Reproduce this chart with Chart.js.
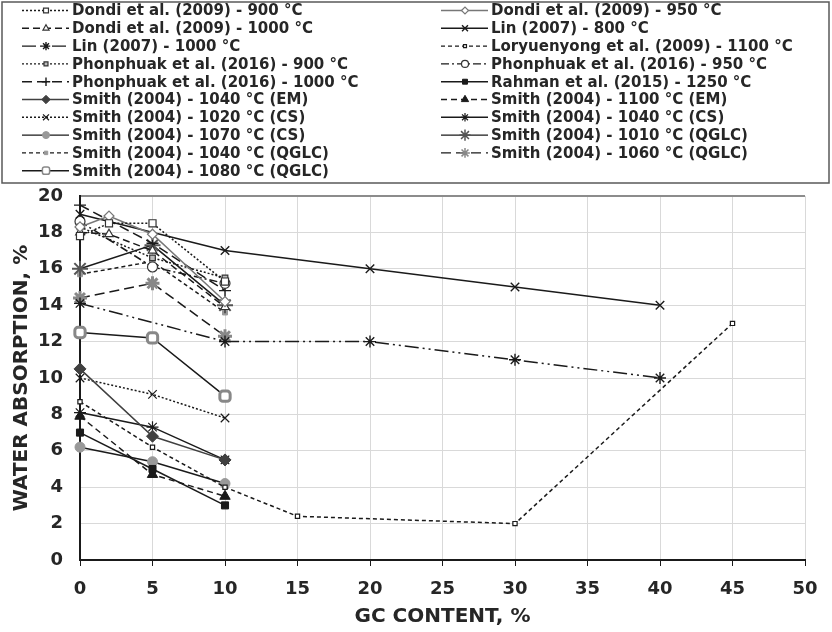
<!DOCTYPE html>
<html>
<head>
<meta charset="utf-8">
<script src="https://cdn.jsdelivr.net/npm/chart.js@4/dist/chart.umd.min.js"></script>
<style>
  html, body { margin: 0; padding: 0; background: #fff; }
</style>
</head>
<body>
<canvas id="chart" width="832" height="632"></canvas>
<script>
// GC content (x) for each study
var gcDondi = [0, 2, 5, 10];
var gcLin = [0, 10, 20, 30, 40];
var gcLory = [0, 5, 10, 15, 30, 45];
var gcShort = [0, 5, 10];

// water absorption, %
var dondi900 = [17.8, 18.5, 18.5, 15.3];
var dondi950 = [18.3, 18.9, 17.9, 14.2];
var dondi1000 = [18.0, 17.9, 17.0, 13.9];
var lin800 = [19.0, 17.0, 16.0, 15.0, 14.0];
var lin1000 = [14.1, 12.0, 12.0, 11.0, 10.0];
var lory1100 = [8.7, 6.2, 4.0, 2.4, 2.0, 13.0];
var phon900 = [18.3, 16.6, 15.5];
var phon950 = [18.6, 16.1, 15.2];
var phon1000 = [19.5, 17.4, 14.8];
var rahman1250 = [7.0, 5.0, 3.0];
var smithEM1040 = [10.5, 6.8, 5.5];
var smithEM1100 = [7.9, 4.7, 3.5];
var smithCS1020 = [10.0, 9.1, 7.8];
var smithCS1040 = [8.1, 7.3, 5.5];
var smithCS1070 = [6.2, 5.4, 4.2];
var smithQ1010 = [16.0, 17.3, 14.0];
var smithQ1040 = [15.7, 16.4, 13.6];
var smithQ1060 = [14.4, 15.2, 12.3];
var smithQ1080 = [12.5, 12.2, 9.0];

var seriesLabels = [
    'Dondi et al. (2009) - 900 °C', 'Dondi et al. (2009) - 950 °C',
    'Dondi et al. (2009) - 1000 °C', 'Lin (2007) - 800 °C',
    'Lin (2007) - 1000 °C', 'Loryuenyong et al. (2009) - 1100 °C',
    'Phonphuak et al. (2016) - 900 °C', 'Phonphuak et al. (2016) - 950 °C',
    'Phonphuak et al. (2016) - 1000 °C', 'Rahman et al. (2015) - 1250 °C',
    'Smith (2004) - 1040 °C (EM)', 'Smith (2004) - 1100 °C (EM)',
    'Smith (2004) - 1020 °C (CS)', 'Smith (2004) - 1040 °C (CS)',
    'Smith (2004) - 1070 °C (CS)', 'Smith (2004) - 1010 °C (QGLC)',
    'Smith (2004) - 1040 °C (QGLC)', 'Smith (2004) - 1060 °C (QGLC)',
    'Smith (2004) - 1080 °C (QGLC)'
];
var seriesX = [gcDondi, gcDondi, gcDondi, gcLin, gcLin, gcLory,
    gcShort, gcShort, gcShort, gcShort, gcShort, gcShort, gcShort,
    gcShort, gcShort, gcShort, gcShort, gcShort, gcShort];
var seriesY = [dondi900, dondi950, dondi1000, lin800, lin1000, lory1100,
    phon900, phon950, phon1000, rahman1250, smithEM1040, smithEM1100,
    smithCS1020, smithCS1040, smithCS1070, smithQ1010, smithQ1040,
    smithQ1060, smithQ1080];

// line colour, dash, marker, radius, marker fill, marker border, marker width
var K = '#1a1a1a';
var styles = [
    [K, [2, 2], 'rect', 5, '#fff', '#333', 1.2],
    ['#777', [], 'rectRot', 5, '#fff', '#777', 1.2],
    [K, [7, 4], 'triangle', 5, '#fff', '#333', 1.2],
    [K, [], 'crossRot', 6, K, K, 1.4],
    [K, [14, 4, 2, 4, 2, 4], 'star', 6, K, K, 1.4],
    [K, [4, 3], 'rect', 3, '#fff', K, 1.2],
    [K, [2, 2], 'rect', 4, '#bbb', '#333', 1.2],
    [K, [8, 3, 2, 3], 'circle', 5, '#fff', '#333', 1.2],
    [K, [10, 5], 'cross', 6, K, K, 1.4],
    [K, [], 'rect', 5, K, K, 1],
    ['#404040', [], 'rectRot', 6, '#404040', '#404040', 1],
    [K, [6, 4], 'triangle', 6, K, K, 1],
    [K, [2, 2], 'crossRot', 6, K, K, 1.2],
    [K, [], 'star', 6, K, K, 1.2],
    [K, [], 'circle', 5, '#999', '#999', 1],
    [K, [], 'star', 8, '#555', '#555', 2],
    [K, [4, 3], 'rect', 3.5, '#999', '#999', 1],
    [K, [10, 5], 'star', 7, '#888', '#888', 3],
    [K, [], 'rectRounded', 6, '#fff', '#888', 3]
];

var FONT = "'DejaVu Sans', 'Noto Sans', sans-serif";

var datasets = seriesLabels.map(function (label, i) {
    var s = styles[i];
    return {
        label: label,
        data: seriesX[i].map(function (x, j) { return { x: x, y: seriesY[i][j] }; }),
        borderColor: s[0],
        borderWidth: 1.5,
        borderDash: s[1],
        pointStyle: s[2],
        pointRadius: s[3],
        pointBackgroundColor: s[4],
        pointBorderColor: s[5],
        pointBorderWidth: s[6],
        tension: 0,
        fill: false,
        clip: false
    };
});

var legendBox = {
    id: 'legendBox',
    afterDraw: function (chart) {
        var ctx = chart.ctx;
        ctx.save();
        ctx.strokeStyle = '#595959';
        ctx.lineWidth = 1.5;
        ctx.strokeRect(2, 2, 827, 181);
        chart.data.datasets.forEach(function (ds, i) {
            var col = i % 2, row = Math.floor(i / 2);
            var x0 = col ? 441 : 22;
            var y = 10.5 + row * 17.8;
            ctx.strokeStyle = ds.borderColor;
            ctx.lineWidth = 1.4;
            ctx.setLineDash(ds.borderDash);
            ctx.beginPath();
            ctx.moveTo(x0, y);
            ctx.lineTo(x0 + 47, y);
            ctx.stroke();
            ctx.setLineDash([]);
            ctx.fillStyle = ds.pointBackgroundColor;
            ctx.strokeStyle = ds.pointBorderColor;
            ctx.lineWidth = Math.min(ds.pointBorderWidth, 1.5);
            Chart.helpers.drawPoint(ctx, {
                pointStyle: ds.pointStyle,
                radius: ds.pointRadius * 0.7,
                rotation: 0,
                borderWidth: ctx.lineWidth
            }, x0 + 24, y);
            ctx.fillStyle = '#262626';
            ctx.font = 'bold 15px ' + FONT;
            ctx.textBaseline = 'middle';
            ctx.fillText(ds.label, x0 + 50, y + 1);
        });
        ctx.restore();
    }
};

new Chart(document.getElementById('chart'), {
    type: 'line',
    data: { datasets: datasets },
    plugins: [legendBox],
    options: {
        responsive: false,
        animation: false,
        layout: { padding: { top: 196, left: 0, right: 27, bottom: 0 } },
        plugins: {
            legend: { display: false },
            tooltip: { enabled: false }
        },
        scales: {
            x: {
                type: 'linear',
                min: 0,
                max: 50,
                afterFit: function (scale) { scale.height = 72; },
                ticks: {
                    stepSize: 5,
                    padding: 13,
                    color: '#262626',
                    font: { family: FONT, size: 18, weight: 'bold' }
                },
                grid: { color: '#d9d9d9', tickColor: K, tickLength: 6 },
                border: { color: K, width: 2 },
                title: {
                    display: true,
                    text: 'GC CONTENT, %',
                    color: '#262626',
                    padding: { top: 3, bottom: 3 },
                    font: { family: FONT, size: 20, weight: 'bold' }
                }
            },
            y: {
                min: 0,
                max: 20,
                afterFit: function (scale) { scale.width = 80; },
                ticks: {
                    stepSize: 2,
                    padding: 17,
                    color: '#262626',
                    font: { family: FONT, size: 18, weight: 'bold' }
                },
                grid: {
                    drawTicks: false,
                    color: function (c) { return c.tick && c.tick.value === 20 ? '#8c8c8c' : '#d9d9d9'; },
                    lineWidth: function (c) { return c.tick && c.tick.value === 20 ? 2 : 1; }
                },
                border: { color: K, width: 2 },
                title: {
                    display: true,
                    text: 'WATER ABSORPTION, %',
                    color: '#262626',
                    padding: { top: 10, bottom: 4 },
                    font: { family: FONT, size: 20, weight: 'bold' }
                }
            }
        }
    }
});
</script>
</body>
</html>
